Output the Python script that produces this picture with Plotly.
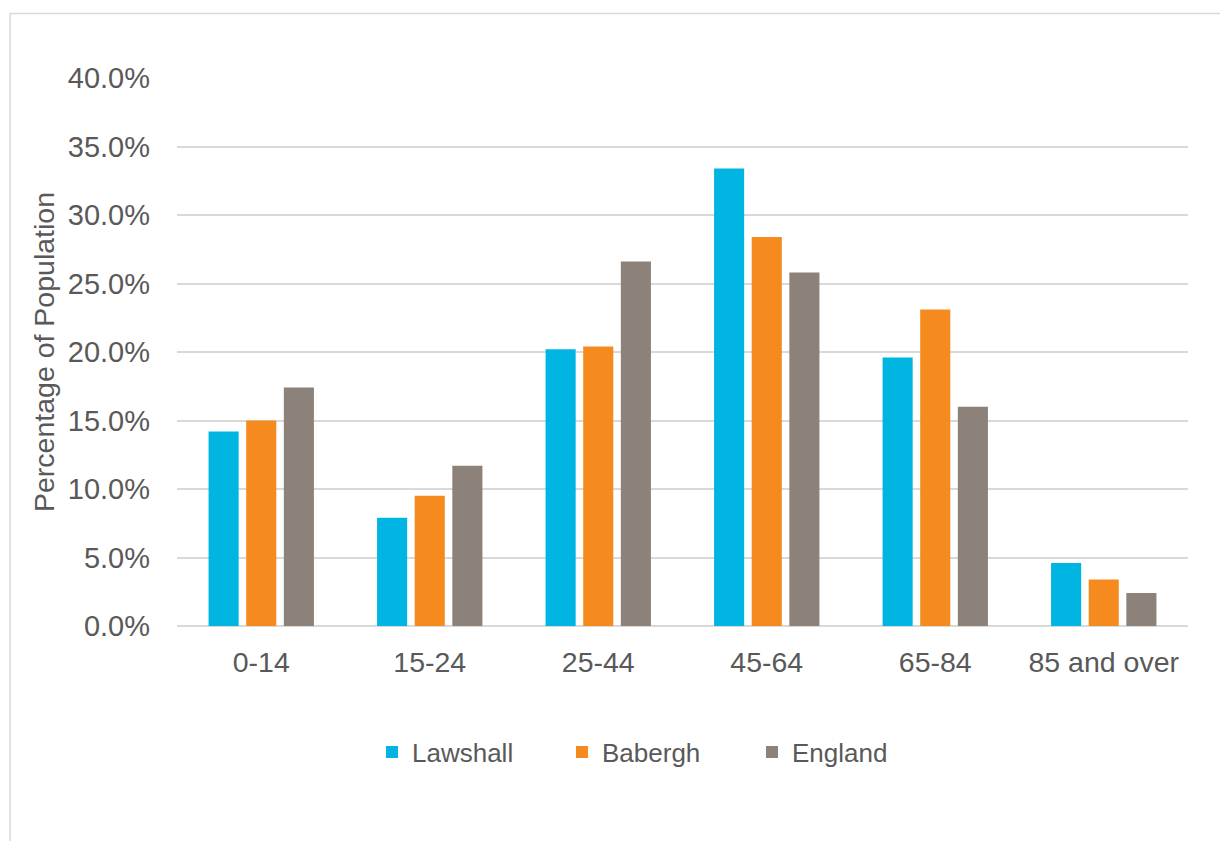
import plotly.graph_objects as go

categories = ["0-14", "15-24", "25-44", "45-64", "65-84", "85 and over"]
lawshall = [0.142, 0.079, 0.202, 0.334, 0.196, 0.046]
babergh = [0.150, 0.095, 0.204, 0.284, 0.231, 0.034]
england = [0.174, 0.117, 0.266, 0.258, 0.160, 0.024]

series_names = ["Lawshall", "Babergh", "England"]
series_colors = ["#00B5E2", "#F58B1F", "#8C8279"]

FONT = "Liberation Sans, Arial, sans-serif"
TXT = "#595959"
GRID = "#D9D9D9"

fig = go.Figure()
for name, vals, col in zip(series_names, [lawshall, babergh, england], series_colors):
    fig.add_trace(go.Bar(name=name, x=categories, y=vals, marker=dict(color=col, line=dict(width=0))))

W, H = 1220, 841
L, R, T, B = 177, 1188, 78, 626

def px_x(p):
    return (p - L) / (R - L)

def px_y(p):
    return (B - p) / (B - T)

fig.update_layout(
    width=W, height=H,
    margin=dict(l=L, r=W - R, t=T, b=H - B, pad=0),
    paper_bgcolor="white", plot_bgcolor="white",
    barmode="group", bargap=0.33, bargroupgap=0.2,
    font=dict(family=FONT, color=TXT, size=28),
    showlegend=True,
    legend=dict(
        orientation="h", x=px_x(372), xanchor="left", y=px_y(752), yanchor="middle",
        font=dict(size=26, color=TXT, family=FONT),
        entrywidth=145, entrywidthmode="pixels",
        bgcolor="rgba(0,0,0,0)", borderwidth=0,
    ),
    yaxis=dict(
        range=[0, 0.4], dtick=0.05, tickformat=".1%",
        showgrid=True, gridcolor=GRID, gridwidth=1.5,
        zeroline=True, zerolinecolor=GRID, zerolinewidth=1.5,
        showline=False, ticks="", ticklabelstandoff=26,
        tickfont=dict(size=29, color=TXT, family=FONT),
        title=dict(text="Percentage of Population", standoff=4,
                   font=dict(size=28.5, color=TXT, family=FONT)),
        fixedrange=True,
    ),
    xaxis=dict(
        showgrid=False, showline=False, ticks="", ticklabelstandoff=16,
        tickfont=dict(size=28.5, color=TXT, family=FONT),
        fixedrange=True,
    ),
    shapes=[dict(
        type="rect", xref="paper", yref="paper",
        x0=px_x(10), x1=px_x(1240), y0=px_y(860), y1=px_y(13.5),
        line=dict(color=GRID, width=1.5), fillcolor="rgba(0,0,0,0)", layer="below",
    )],
)

fig.write_html("out.html", config={"displayModeBar": False})
